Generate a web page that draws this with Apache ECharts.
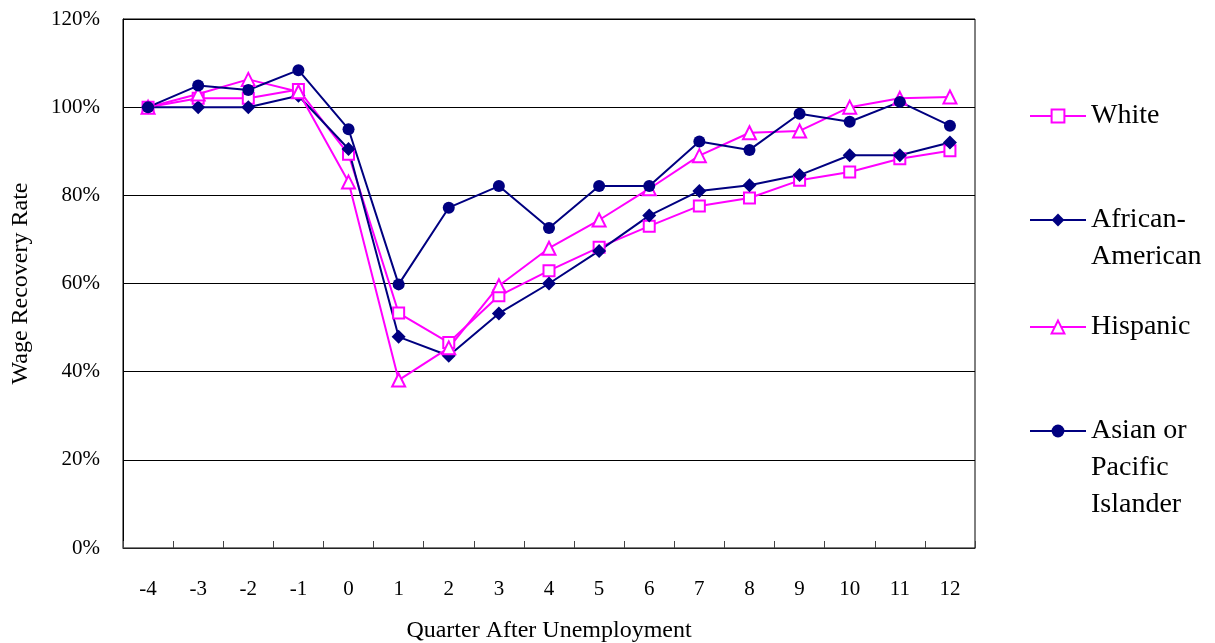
<!DOCTYPE html>
<html>
<head>
<meta charset="utf-8">
<script src="https://cdn.jsdelivr.net/npm/echarts@6/dist/echarts.min.js"></script>
<style>
  html, body { margin: 0; padding: 0; background: #fff; }
  #chart { width: 1215px; height: 643px; }
</style>
</head>
<body>
<div id="chart"></div>
<script>
// Quarters relative to the start of unemployment
const quarters = ['-4', '-3', '-2', '-1', '0', '1', '2', '3', '4', '5', '6', '7', '8', '9', '10', '11', '12'];

// Wage recovery rate (%) by group
const white    = [100, 102, 102, 104, 89.3, 53.3, 46.6, 57.2, 62.9, 68.2, 73.0, 77.6, 79.4, 83.4, 85.3, 88.3, 90.1];
const african  = [100, 100, 100, 102.6, 90.5, 47.9, 43.6, 53.2, 60.0, 67.4, 75.4, 81.0, 82.3, 84.6, 89.1, 89.1, 92.0];
const hispanic = [100, 103, 106.3, 103.5, 83.0, 38.1, 45.4, 59.5, 68.0, 74.4, 81.5, 89.0, 94.2, 94.6, 100, 102, 102.3];
const asian    = [100, 104.9, 103.9, 108.4, 95.0, 59.8, 77.2, 82.1, 72.6, 82.1, 82.1, 92.2, 90.3, 98.5, 96.7, 101.2, 95.8];

// Y-axis ticks (%)
const yTicks = [0, 20, 40, 60, 80, 100, 120];

const FONT = 'Liberation Serif';
const MAGENTA = '#ff00ff';
const NAVY = '#000080';

const names = {
  white: 'White',
  african: 'African-\nAmerican',
  hispanic: 'Hispanic',
  asian: 'Asian or\nPacific\nIslander'
};

const LINE_H = 37;

// Multi-line legend labels hang below their icon: the label block is centred
// on the symbol, so lead it with blank lines to put the first line level with it.
function hangingLabel(name) {
  const n = name.split('\n').length;
  let s = '';
  for (let i = 1; i < n; i++) s += '\u00a0\n';
  return s + name;
}

function legendFor(name, centerY) {
  const n = name.split('\n').length;
  const boxH = (2 * n - 1) * LINE_H;
  return {
    data: [name],
    orient: 'vertical',
    left: 1029,
    top: centerY - boxH / 2 + 1,
    padding: 0,
    itemWidth: 56,
    itemHeight: 16,
    formatter: hangingLabel,
    textStyle: {
      fontFamily: FONT,
      fontSize: 28,
      color: '#000',
      lineHeight: LINE_H
    }
  };
}

function lineSeries(name, data, symbol, size, color, hollow) {
  return {
    name: name,
    type: 'line',
    data: data,
    symbol: symbol,
    symbolSize: size,
    showSymbol: true,
    animation: false,
    lineStyle: { color: color, width: 2 },
    itemStyle: hollow
      ? { color: '#ffffff', borderColor: color, borderWidth: 2 }
      : { color: color, borderColor: color, borderWidth: 0 },
    emphasis: { disabled: true }
  };
}

const chart = echarts.init(document.getElementById('chart'), null, { renderer: 'canvas' });

chart.setOption({
  backgroundColor: '#ffffff',
  animation: false,
  grid: {
    left: 123,
    right: 240,
    top: 19,
    bottom: 95,
    outerBoundsMode: 'none',
    show: true,
    borderColor: '#000',
    borderWidth: 1,
    backgroundColor: 'transparent'
  },
  legend: [
    legendFor(names.white, 115),
    legendFor(names.african, 219),
    legendFor(names.hispanic, 326),
    legendFor(names.asian, 430)
  ],
  xAxis: {
    type: 'category',
    data: quarters,
    boundaryGap: true,
    name: 'Quarter After Unemployment',
    nameLocation: 'middle',
    nameGap: 71,
    nameTextStyle: { fontFamily: FONT, fontSize: 24, color: '#000' },
    axisLine: { lineStyle: { color: '#222', width: 1 } },
    axisTick: { show: true, inside: true, length: 7, lineStyle: { color: '#444' } },
    axisLabel: { fontFamily: FONT, fontSize: 21, color: '#000', margin: 31 },
    splitLine: { show: false }
  },
  yAxis: {
    type: 'value',
    min: yTicks[0],
    max: yTicks[yTicks.length - 1],
    interval: yTicks[1] - yTicks[0],
    name: 'Wage Recovery Rate',
    nameLocation: 'middle',
    nameGap: 90,
    nameTextStyle: { fontFamily: FONT, fontSize: 24, color: '#000' },
    axisLine: { show: true, lineStyle: { color: '#000', width: 1 } },
    axisTick: { show: false },
    axisLabel: { fontFamily: FONT, fontSize: 21, color: '#000', margin: 23, formatter: '{value}%' },
    splitLine: { show: true, lineStyle: { color: '#000', width: 1 } }
  },
  series: [
    lineSeries(names.white, white, 'rect', 11, MAGENTA, true),
    lineSeries(names.african, african, 'diamond', 14, NAVY, false),
    lineSeries(names.hispanic, hispanic, 'triangle', 13, MAGENTA, true),
    lineSeries(names.asian, asian, 'circle', 12, NAVY, false)
  ]
});
</script>
</body>
</html>
